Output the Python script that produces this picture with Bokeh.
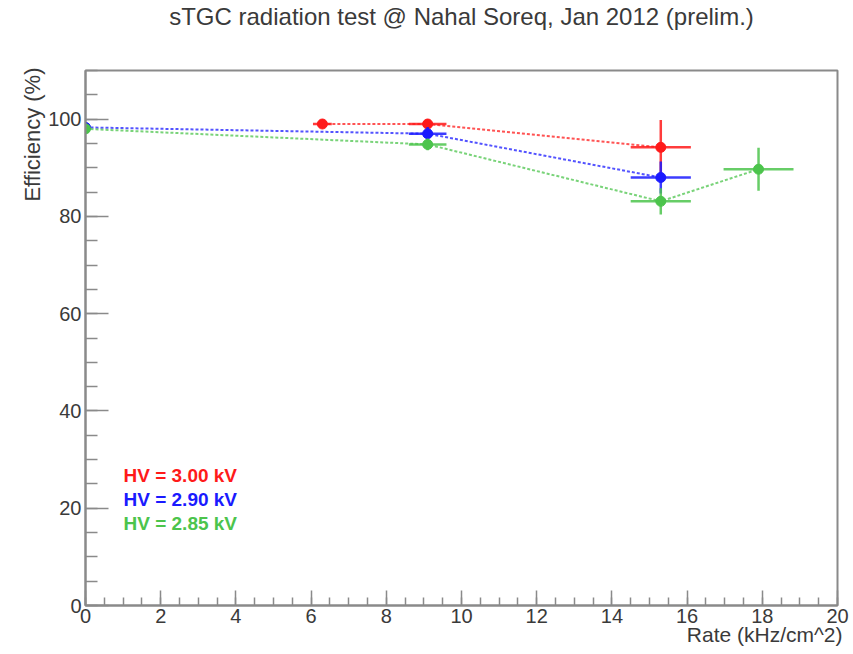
from bokeh.plotting import figure
from bokeh.models import Range1d, Label, FixedTicker, Title
from bokeh.embed import file_html
from bokeh.resources import INLINE

# ---- data ----
red_x = [6.3, 9.1, 15.3]
red_y = [99.0, 99.0, 94.2]
red_xerr = [0.25, 0.5, 0.8]
red_yerr = [0.7, 1.0, 5.6]

blue_x = [0.0, 9.1, 15.3]
blue_y = [98.3, 97.0, 88.0]
blue_xerr = [0.0, 0.5, 0.8]
blue_yerr = [0.5, 1.4, 3.3]

green_x = [0.0, 9.1, 15.3, 17.9]
green_y = [98.0, 94.8, 83.1, 89.7]
green_xerr = [0.0, 0.5, 0.8, 0.93]
green_yerr = [0.5, 1.2, 2.7, 4.4]

legend_labels = ["HV = 3.00 kV", "HV = 2.90 kV", "HV = 2.85 kV"]
x_ticks = [0, 2, 4, 6, 8, 10, 12, 14, 16, 18, 20]
y_ticks = [0, 20, 40, 60, 80, 100]

RED = "#ff1a1a"
BLUE = "#1a1aff"
GREEN = "#4cc44c"
FONT = "Liberation Sans"
AXC = "#8a8a8a"
TXT = "#3a3a3a"

p = figure(width=853, height=654, output_backend="svg", toolbar_location=None,
           x_range=Range1d(0, 20), y_range=Range1d(0, 110),
           min_border_left=85, min_border_right=16, min_border_top=69, min_border_bottom=49)
p.title.text = "sTGC radiation test @ Nahal Soreq, Jan 2012 (prelim.)"
p.title.align = "center"
p.title.vertical_align = "top"
p.title.text_font = FONT
p.title.text_font_size = "24px"
p.title.text_font_style = "normal"
p.title.text_color = TXT
p.title.standoff = 4

# spacer between frame and title, pushes the title toward the top edge
spacer = Title(text=" ", text_font_size="14px", standoff=19)
p.above = [spacer] + list(p.above)

p.add_layout(Title(text="Efficiency (%)", align="right", text_font=FONT,
                   text_font_size="22px", text_font_style="normal",
                   text_color=TXT, offset=-3, standoff=2), "left")

# x-axis title, right-aligned under the axis end
p.add_layout(Title(text="Rate (kHz/cm^2)", align="right", text_font=FONT,
                   text_font_size="21px", text_font_style="normal",
                   text_color=TXT, offset=-5, standoff=-10), "below")

p.grid.visible = False
p.outline_line_color = AXC
p.outline_line_width = 2
p.background_fill_color = "white"
p.border_fill_color = "white"

for ax in (p.xaxis[0], p.yaxis[0]):
    ax.axis_line_color = AXC
    ax.axis_line_width = 2
    ax.major_tick_line_color = AXC
    ax.minor_tick_line_color = AXC
    ax.major_tick_line_width = 1.5
    ax.minor_tick_line_width = 1.5
    ax.major_tick_out = 0
    ax.minor_tick_out = 0
    ax.major_label_text_font = FONT
    ax.major_label_text_font_size = "20px"
    ax.major_label_text_color = TXT

p.xaxis[0].ticker = FixedTicker(ticks=x_ticks, minor_ticks=[i * 0.5 for i in range(41)])
p.yaxis[0].ticker = FixedTicker(ticks=y_ticks, minor_ticks=[i * 5 for i in range(23)])
p.xaxis[0].major_tick_in = 15
p.xaxis[0].minor_tick_in = 8
p.yaxis[0].major_tick_in = 23
p.yaxis[0].minor_tick_in = 12
p.xaxis[0].major_label_standoff = 3
p.yaxis[0].major_label_standoff = 4

series = [
    (red_x, red_y, red_xerr, red_yerr, RED),
    (blue_x, blue_y, blue_xerr, blue_yerr, BLUE),
    (green_x, green_y, green_xerr, green_yerr, GREEN),
]
for xs, ys, xe, ye, c in series:
    p.line(xs, ys, line_color=c, line_width=2, line_dash="3 2", line_alpha=0.75)
for xs, ys, xe, ye, c in series:
    p.segment(x0=[x - e for x, e in zip(xs, xe)], y0=ys,
              x1=[x + e for x, e in zip(xs, xe)], y1=ys,
              line_color=c, line_width=2.5, line_alpha=0.85)
    p.segment(x0=xs, y0=[y - e for y, e in zip(ys, ye)],
              x1=xs, y1=[y + e for y, e in zip(ys, ye)],
              line_color=c, line_width=2.5, line_alpha=0.85)
    p.scatter(xs, ys, size=10, fill_color=c, line_color=c)

# legend texts
for i, (lab, c) in enumerate(zip(legend_labels, [RED, BLUE, GREEN])):
    p.add_layout(Label(x=38, y=130 - i * 24, x_units="screen", y_units="screen",
                       text=lab, text_color=c, text_font=FONT,
                       text_font_size="19px", text_font_style="bold",
                       text_baseline="middle"))

open("out.html", "w").write(file_html(p, INLINE))
